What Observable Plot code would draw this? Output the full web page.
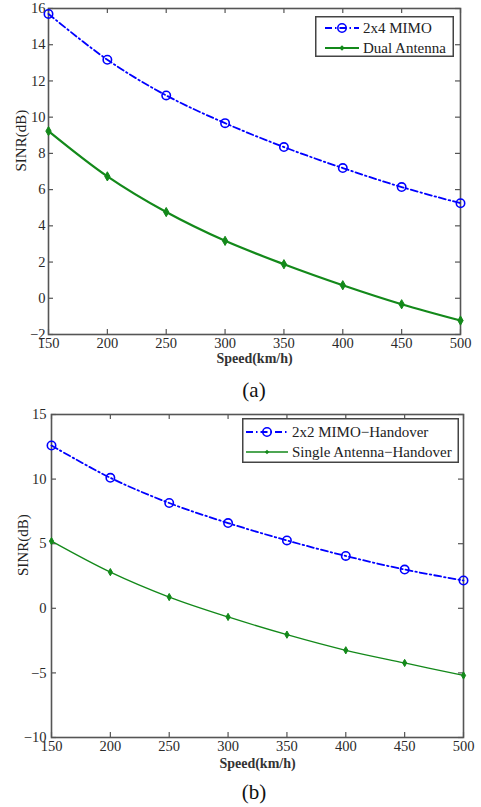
<!DOCTYPE html>
<html><head><meta charset="utf-8">
<script src="https://cdn.jsdelivr.net/npm/d3@7"></script>
<script src="https://cdn.jsdelivr.net/npm/@observablehq/plot@0.6"></script>
<style>
body{margin:0;background:#fff;}
#wrap{position:relative;width:481px;height:807px;overflow:hidden;font-family:"Liberation Serif","Times New Roman",serif;}
.panel{position:absolute;left:0;}
.cap{position:absolute;left:48px;width:412px;text-align:center;font-size:21px;color:#111;line-height:24px;}
.legend{position:absolute;}
</style>
</head><body>
<div id="wrap"></div>
<script>
// ---- data ----
const speeds = [150, 200, 250, 300, 350, 400, 450, 500];
const xTicks = [150, 200, 250, 300, 350, 400, 450, 500];
// panel (a)
const mimo2x4 = [15.7, 13.17, 11.2, 9.67, 8.35, 7.19, 6.14, 5.25];
const dualAntenna = [9.23, 6.73, 4.76, 3.17, 1.88, 0.72, -0.33, -1.23];
const yTicksA = [-2, 0, 2, 4, 6, 8, 10, 12, 14, 16];
const yDomainA = [-2, 16];
// panel (b)
const mimo2x2HO = [12.6, 10.1, 8.15, 6.6, 5.25, 4.05, 3.0, 2.15];
const singleHO = [5.2, 2.8, 0.87, -0.67, -2.04, -3.25, -4.23, -5.2];
const yTicksB = [-10, -5, 0, 5, 10, 15];
const yDomainB = [-10, 15];
const xLabel = "Speed(km/h)";
const yLabel = "SINR(dB)";
const labelsA = ["2x4 MIMO", "Dual Antenna"];
const labelsB = ["2x2 MIMO\u2212Handover", "Single Antenna\u2212Handover"];
const captions = ["(a)", "(b)"];

const BLUE = "#0000ff", GREEN = "#13891a", AXIS = "#555";
const FONT = '"Liberation Serif","Times New Roman",serif';

function panel(cfg) {
  const W = cfg.width - cfg.ml - cfg.mr;
  const H = cfg.height - cfg.mt - cfg.mb;
  const rowsBlue = speeds.map((s, i) => ({x: s, y: cfg.blue[i]}));
  const rowsGreen = speeds.map((s, i) => ({x: s, y: cfg.green[i]}));
  const tl = 5;
  return Plot.plot({
    width: cfg.width, height: cfg.height,
    marginLeft: cfg.ml, marginRight: cfg.mr, marginTop: cfg.mt, marginBottom: cfg.mb,
    style: {fontFamily: FONT, fontSize: "14.5px", color: "#2a2a2a", background: "transparent", overflow: "visible"},
    x: {domain: [150, 500]},
    y: {domain: cfg.yDomain},
    marks: [
      Plot.axisX({ticks: xTicks, tickSize: 0, tickPadding: 3, label: null, tickFormat: d3.format("d"), fontSize: 14.5}),
      Plot.axisY({ticks: cfg.yTicks, tickSize: 0, tickPadding: cfg.ypad, label: null, fontSize: 14.5}),
      // inward ticks on all four sides
      Plot.tickX(xTicks, {x: d => d, insetTop: H - tl, stroke: AXIS, strokeWidth: 1.2}),
      Plot.tickX(xTicks, {x: d => d, insetBottom: H - tl, stroke: AXIS, strokeWidth: 1.2}),
      Plot.tickY(cfg.yTicks, {y: d => d, insetRight: W - tl, stroke: AXIS, strokeWidth: 1.2}),
      Plot.tickY(cfg.yTicks, {y: d => d, insetLeft: W - tl, stroke: AXIS, strokeWidth: 1.2}),
      Plot.frame({stroke: AXIS, strokeWidth: 1.6}),
      Plot.line(rowsGreen, {x: "x", y: "y", stroke: GREEN, strokeWidth: cfg.gw, curve: "catmull-rom"}),
      Plot.dot(rowsGreen, {x: "x", y: "y", symbol: "diamond", r: cfg.gr, fill: GREEN, stroke: GREEN, strokeWidth: 1}),
      Plot.line(rowsBlue, {x: "x", y: "y", stroke: BLUE, strokeWidth: 1.8, strokeDasharray: "7,3,1.5,3", curve: "catmull-rom"}),
      Plot.dot(rowsBlue, {x: "x", y: "y", r: 4.2, stroke: BLUE, strokeWidth: 1.6, fill: "none"}),
      Plot.text([xLabel], {text: d => d, frameAnchor: "bottom", dy: cfg.xlabDy, fontSize: 14, fontWeight: "bold", fill: "#333"}),
      Plot.text([yLabel], {text: d => d, frameAnchor: "left", dx: cfg.ylabDx, rotate: -90, fontSize: 15, fill: "#222"})
    ]
  });
}

function legendSvg(labels, w, h, greenW, greenR, rowY, lx0, lx1, tx) {
  const ns = "http://www.w3.org/2000/svg";
  const svg = document.createElementNS(ns, "svg");
  svg.setAttribute("width", w); svg.setAttribute("height", h);
  svg.style.fontFamily = FONT;
  const add = (tag, attrs, text) => {
    const el = document.createElementNS(ns, tag);
    for (const k in attrs) el.setAttribute(k, attrs[k]);
    if (text) el.textContent = text;
    svg.appendChild(el); return el;
  };
  add("rect", {x: 0.75, y: 0.75, width: w - 1.5, height: h - 1.5, fill: "#fff", stroke: "#444", "stroke-width": 1.5});
  const cx = (lx0 + lx1) / 2;
  add("line", {x1: lx0, x2: lx1, y1: rowY[0], y2: rowY[0], stroke: BLUE, "stroke-width": 1.8, "stroke-dasharray": "7,3,1.5,3"});
  add("circle", {cx, cy: rowY[0], r: 4.2, fill: "none", stroke: BLUE, "stroke-width": 1.6});
  add("line", {x1: lx0, x2: lx1, y1: rowY[1], y2: rowY[1], stroke: GREEN, "stroke-width": greenW});
  add("path", {d: `M${cx},${rowY[1]-greenR}L${cx+greenR},${rowY[1]}L${cx},${rowY[1]+greenR}L${cx-greenR},${rowY[1]}Z`, fill: GREEN});
  add("text", {x: tx, y: rowY[0], "dominant-baseline": "central", "font-size": 15, fill: "#222"}, labels[0]);
  add("text", {x: tx, y: rowY[1], "dominant-baseline": "central", "font-size": 15, fill: "#222"}, labels[1]);
  return svg;
}

const wrap = document.getElementById("wrap");

const pa = panel({width: 481, height: 372, ml: 48, mr: 21, mt: 8, mb: 38,
  blue: mimo2x4, green: dualAntenna, yDomain: yDomainA, yTicks: yTicksA,
  gw: 2.2, gr: 2.8, xlabDy: 28, ylabDx: -27, ypad: 3});
pa.classList.add("panel"); pa.style.top = "0px";
wrap.appendChild(pa);

const pb = panel({width: 481, height: 380, ml: 51, mr: 18, mt: 14, mb: 43,
  blue: mimo2x2HO, green: singleHO, yDomain: yDomainB, yTicks: yTicksB,
  gw: 1.3, gr: 2.2, xlabDy: 30, ylabDx: -28, ypad: 5});
pb.classList.add("panel"); pb.style.top = "400px";
wrap.appendChild(pb);

const la = legendSvg(labelsA, 139, 41, 2.2, 2.8, [12, 32], 10, 44, 48);
la.classList.add("legend"); la.style.left = "315px"; la.style.top = "16px";
wrap.appendChild(la);

const lb = legendSvg(labelsB, 217, 45, 1.3, 2.2, [14, 34], 4, 46, 50);
lb.classList.add("legend"); lb.style.left = "242px"; lb.style.top = "418px";
wrap.appendChild(lb);

const ca = document.createElement("div");
ca.className = "cap"; ca.style.top = "378px"; ca.textContent = captions[0];
wrap.appendChild(ca);
const cb = document.createElement("div");
cb.className = "cap"; cb.style.top = "780px"; cb.textContent = captions[1];
wrap.appendChild(cb);
</script>
</body></html>
